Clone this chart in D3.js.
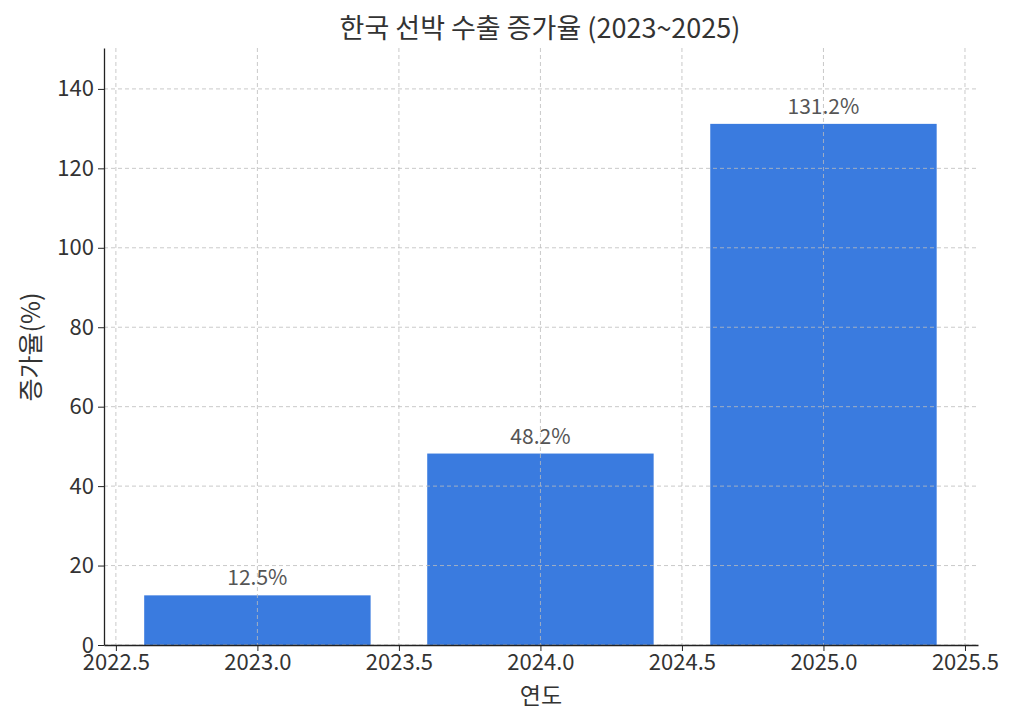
<!DOCTYPE html>
<html><head><meta charset="utf-8">
<script src="https://cdn.jsdelivr.net/npm/d3@7"></script>
<style>body{margin:0;background:#fff}text{font-family:"Noto Sans CJK KR","Noto Sans",sans-serif}</style>
</head><body><svg id="c" width="1024" height="724"></svg>
<script>
const years=[2023,2024,2025];
const values=[12.5,48.2,131.2];
const labels=["12.5%","48.2%","131.2%"];
const xTicks=[2022.5,2023.0,2023.5,2024.0,2024.5,2025.0,2025.5];
const yTicks=[0,20,40,60,80,100,120,140];
const svg=d3.select("#c");
const L=104,R=978,T=48,B=645;
const x=d3.scaleLinear().domain([2022.458,2025.546]).range([L,R]);
const y=d3.scaleLinear().domain([0,150.3]).range([B,T]);
const bw=x(2023.4)-x(2022.6);
svg.selectAll("rect").data(years).enter().append("rect")
 .attr("x",d=>x(d-0.4)).attr("width",bw).attr("y",(d,i)=>y(values[i])).attr("height",(d,i)=>B-y(values[i])).attr("fill","#3a7bdf");
const g=svg.append("g");
xTicks.forEach(t=>g.append("line").attr("x1",x(t)).attr("x2",x(t)).attr("y1",T).attr("y2",B).attr("stroke","#bbb").attr("stroke-dasharray","4,3").attr("stroke-width",0.8));
yTicks.forEach(t=>g.append("line").attr("x1",L).attr("x2",R).attr("y1",y(t)).attr("y2",y(t)).attr("stroke","#bbb").attr("stroke-dasharray","4,3").attr("stroke-width",0.8));
const xa=svg.append("g").attr("transform",`translate(0,${B})`).call(d3.axisBottom(x).tickValues(xTicks).tickFormat(d3.format(".1f")).tickSize(6).tickPadding(3).tickSizeOuter(0));
const ya=svg.append("g").attr("transform",`translate(${L},0)`).call(d3.axisLeft(y).tickValues(yTicks).tickSize(6).tickPadding(4).tickSizeOuter(0));
[xa,ya].forEach(a=>{a.selectAll("text").attr("font-size",22).attr("fill","#333").style("font-family","'Noto Sans CJK KR'");a.select(".domain").attr("stroke","#222").attr("stroke-width",1.3);a.selectAll(".tick line").attr("stroke","#222");});
svg.selectAll(".lbl").data(years).enter().append("text").attr("x",d=>x(d)).attr("y",(d,i)=>y(values[i])-10).attr("text-anchor","middle").attr("font-size",21).attr("fill","#555").text((d,i)=>labels[i]);
svg.append("text").attr("x",540).attr("y",38).attr("text-anchor","middle").attr("font-size",27).attr("fill","#333").text("한국 선박 수출 증가율 (2023~2025)");
svg.append("text").attr("x",541).attr("y",704).attr("text-anchor","middle").attr("font-size",23).attr("fill","#333").text("연도");
svg.append("text").attr("transform","translate(40,347) rotate(-90)").attr("text-anchor","middle").attr("font-size",25).attr("fill","#333").text("증가율(%)");
</script></body></html>
